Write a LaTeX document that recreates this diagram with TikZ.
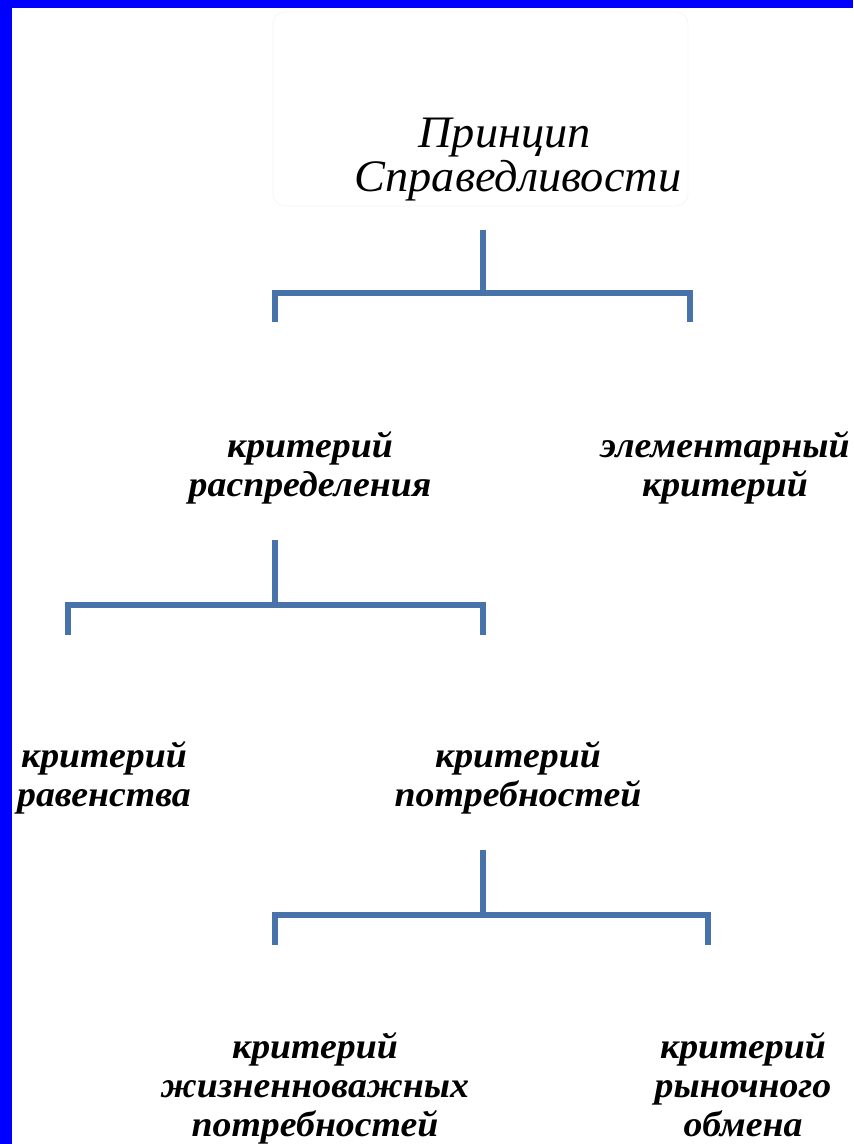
\documentclass[tikz,border=0pt]{standalone}
\usepackage{fontspec}
\usepackage{graphicx}
\setmainfont{Liberation Serif}
\newcommand{\lowtxt}[1]{{\fontsize{18}{19.5}\selectfont\bfseries\itshape\scalebox{1.05}[1]{\begin{tabular}{@{}c@{}}#1\end{tabular}}}}
\newcommand{\toptxt}[1]{{\fontsize{22.5}{20.5}\selectfont\itshape\scalebox{1.03}[1]{\begin{tabular}{@{}c@{}}#1\end{tabular}}}}
\begin{document}
\begin{tikzpicture}[x=0.5pt,y=-0.5pt,
  conn/.style={draw=linecol, line width=3pt},
  lbl/.style={inner sep=0pt}]
\definecolor{linecol}{HTML}{4872AA}
\definecolor{frame}{HTML}{0000FF}
\useasboundingbox (0,0) rectangle (853,1144);
\fill[white] (0,0) rectangle (853,1144);
\fill[frame] (0,0) rectangle (12,1144);
\fill[frame] (0,0) rectangle (853,8);
\draw[draw=black!4, rounded corners=6pt] (273,12) rectangle (688,206);
% nodes
\node[lbl] (top) at (518,161) {\toptxt{Принцип\hspace*{13pt}\\Справедливости}};
\node[lbl] (raspr) at (310,469) {\lowtxt{критерий\\распределения}};
\node[lbl] (elem) at (725,469) {\lowtxt{элементарный\\критерий}};
\node[lbl] (raven) at (104,779) {\lowtxt{критерий\\равенства}};
\node[lbl] (potr) at (518,779) {\lowtxt{критерий\\потребностей}};
\node[lbl] (zhizn) at (315,1090) {\lowtxt{критерий\\жизненноважных\\потребностей}};
\node[lbl] (rynok) at (743,1090) {\lowtxt{критерий\\рыночного\\обмена}};
% junction coordinates
\coordinate (a0) at (483,230); \coordinate (a1) at (483,293);
\coordinate (al) at (275,293); \coordinate (ar) at (690,293);
\coordinate (al2) at (275,322); \coordinate (ar2) at (690,322);
\coordinate (b0) at (275,540); \coordinate (b1) at (275,605);
\coordinate (bl) at (68,605); \coordinate (br) at (483,605);
\coordinate (bl2) at (68,635); \coordinate (br2) at (483,635);
\coordinate (c0) at (483,850); \coordinate (c1) at (483,915);
\coordinate (cl) at (275,915); \coordinate (cr) at (708,915);
\coordinate (cl2) at (275,945); \coordinate (cr2) at (708,945);
% connectors
\draw[conn] (a0) -- (a1);
\draw[conn] (al2) -- (al) -- (ar) -- (ar2);
\draw[conn] (b0) -- (b1);
\draw[conn] (bl2) -- (bl) -- (br) -- (br2);
\draw[conn] (c0) -- (c1);
\draw[conn] (cl2) -- (cl) -- (cr) -- (cr2);
\end{tikzpicture}
\end{document}
